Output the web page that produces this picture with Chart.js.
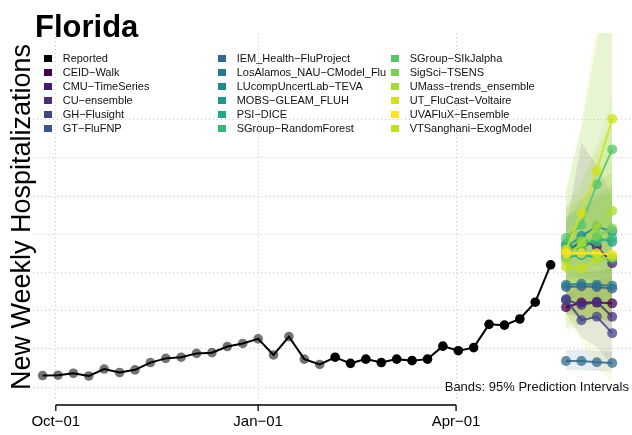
<!DOCTYPE html>
<html>
<head>
<meta charset="utf-8">
<script src="https://cdn.jsdelivr.net/npm/chart.js@4.4.0/dist/chart.umd.min.js"></script>
<style>
  html, body { margin: 0; padding: 0; background: #fff; }
  #wrap { position: relative; width: 632px; height: 435px; overflow: hidden; font-family: "Liberation Sans", Arial, sans-serif; }
  #chart { position: absolute; left: 0; top: 0; }
  #title { position: absolute; left: 35px; top: 11px; font-size: 31px; line-height: 31px; font-weight: bold; color: #000; }
  .item { position: absolute; font-size: 11px; line-height: 14px; color: #111; white-space: nowrap; }
  .key { position: absolute; width: 8px; height: 7px; }
  #note { position: absolute; right: 3px; top: 380px; font-size: 13px; line-height: 13px; color: #111; }
</style>
</head>
<body>
<div id="wrap">
  <canvas id="chart" width="632" height="435"></canvas>
  <div id="title">Florida</div>
  <div id="legend"></div>
  <div id="note">Bands: 95% Prediction Intervals</div>
</div>
<script>
// x axis ticks
const tickDates = ['2021-10-01', '2022-01-01', '2022-04-01'];
const tickLabels = ['Oct−01', 'Jan−01', 'Apr−01'];
// horizontal grid lines (no labels on the y axis)
const gridValues = [0, 100, 200, 300, 400, 500, 600, 700];

// reported weekly hospitalizations
const reportedDates = [
  '2021-09-25', '2021-10-02', '2021-10-09', '2021-10-16', '2021-10-23', '2021-10-30',
  '2021-11-06', '2021-11-13', '2021-11-20', '2021-11-27', '2021-12-04', '2021-12-11',
  '2021-12-18', '2021-12-25', '2022-01-01', '2022-01-08', '2022-01-15', '2022-01-22',
  '2022-01-29', '2022-02-05', '2022-02-12', '2022-02-19', '2022-02-26', '2022-03-05',
  '2022-03-12', '2022-03-19', '2022-03-26', '2022-04-02', '2022-04-09', '2022-04-16',
  '2022-04-23', '2022-04-30', '2022-05-07', '2022-05-14'
];
const reportedValues = [30, 31, 36, 29, 47, 38, 45, 64, 75, 78, 88, 90, 106, 114, 126, 84, 132, 73,
  59, 78, 62, 73, 64, 73, 69, 73, 107, 95, 103, 164, 162, 178, 222, 320];
const greyCount = 19; // first points drawn in grey

// forecasts
const forecastDates = ['2022-05-21', '2022-05-28', '2022-06-04', '2022-06-11'];
const modelNames = [
  'CEID−Walk', 'CMU−TimeSeries', 'CU−ensemble', 'GH−Flusight', 'GT−FluFNP',
  'IEM_Health−FluProject', 'LosAlamos_NAU−CModel_Flu', 'LUcompUncertLab−TEVA',
  'MOBS−GLEAM_FLUH', 'PSI−DICE', 'SGroup−RandomForest', 'SGroup−SIkJalpha',
  'SigSci−TSENS', 'UMass−trends_ensemble', 'UT_FluCast−Voltaire', 'UVAFluX−Ensemble',
  'VTSanghani−ExogModel'
];
const modelColors = [
  '#440154', '#481A6C', '#472F7D', '#414487', '#39568C', '#31688E', '#2A788E', '#23888E',
  '#1F988B', '#22A884', '#35B779', '#54C568', '#7AD151', '#A5DB36', '#D2E21B', '#FDE725',
  '#C2DF23'
];
const forecastMedian = [
  [209, 221, 221, 219], [350, 383, 368, 324], [228, 215, 223, 184], [230, 175, 184, 141],
  [262, 264, 262, 258], [68, 68, 65, 63], [268, 270, 268, 265], [365, 395, 420, 407],
  [375, 360, 390, 380], [340, 345, 340, 335], [372, 385, 380, 390], [390, 424, 531, 622],
  [355, 370, 395, 415], [330, 380, 420, 461], [359, 455, 566, 702], [350, 350, 350, 347],
  [314, 310, 335, 340]
];
const forecastLower = [
  [190, 185, 180, 170], [290, 290, 270, 230], [200, 185, 175, 150], [195, 130, 105, 55],
  [235, 230, 220, 210], [44, 44, 42, 40], [245, 240, 235, 225], [300, 310, 320, 290],
  [300, 280, 290, 270], [200, 190, 180, 170], [220, 215, 210, 200], [280, 290, 320, 340],
  [150, 160, 175, 190], [160, 170, 180, 190], [180, 120, 50, 10], [210, 195, 180, 170],
  [190, 180, 175, 170]
];
const forecastUpper = [
  [240, 265, 280, 290], [420, 639, 580, 500], [265, 260, 280, 245], [265, 225, 250, 220],
  [290, 300, 305, 310], [97, 97, 95, 92], [295, 300, 305, 310], [440, 490, 540, 560],
  [445, 460, 500, 520], [470, 490, 510, 530], [450, 470, 490, 510], [510, 680, 900, 1150],
  [470, 540, 620, 700], [430, 530, 640, 760], [524, 690, 955, 1300], [470, 500, 530, 560],
  [420, 440, 480, 520]
];

const DAY = 86400000;
const origin = Date.UTC(2021, 9, 1);
function dayOf(s) {
  const p = s.split('-').map(Number);
  return (Date.UTC(p[0], p[1] - 1, p[2]) - origin) / DAY;
}
function rgba(hex, a) {
  const n = parseInt(hex.slice(1), 16);
  return `rgba(${n >> 16}, ${(n >> 8) & 255}, ${n & 255}, ${a})`;
}
const font = '"Liberation Sans", Arial, sans-serif';
const tickDays = tickDates.map(dayOf);
const fDays = forecastDates.map(dayOf);
const toPoints = vals => vals.map((v, i) => ({ x: fDays[i], y: v }));

const datasets = [];
modelNames.forEach((name, i) => {
  // later models are painted on top of earlier ones
  const bandOrder = 3 + (modelNames.length - i) * 0.01;
  const lowerIdx = datasets.length;
  datasets.push({
    data: toPoints(forecastLower[i]), borderWidth: 0, pointRadius: 0, fill: false, order: bandOrder
  });
  datasets.push({
    data: toPoints(forecastUpper[i]), borderWidth: 0, pointRadius: 0,
    fill: lowerIdx, backgroundColor: rgba(modelColors[i], 0.12), order: bandOrder
  });
});
modelNames.forEach((name, i) => {
  datasets.push({
    label: name,
    data: toPoints(forecastMedian[i]),
    borderColor: rgba(modelColors[i], 0.85),
    borderWidth: 2,
    pointRadius: 5,
    pointBorderWidth: 0,
    pointBackgroundColor: rgba(modelColors[i], 0.75),
    fill: false,
    order: 1 + (modelNames.length - i) * 0.01
  });
});
const reportedPoints = reportedValues.map((v, i) => ({ x: dayOf(reportedDates[i]), y: v }));
datasets.push({
  data: reportedPoints.slice(0, greyCount),
  showLine: false,
  pointRadius: 4.8,
  pointBorderWidth: 0,
  pointBackgroundColor: 'rgba(0, 0, 0, 0.55)',
  order: 0.5
});
datasets.push({
  label: 'Reported',
  data: reportedPoints,
  borderColor: '#000',
  borderWidth: 2,
  pointRadius: reportedPoints.map((p, i) => i < greyCount ? 0 : 4.8),
  pointBorderWidth: 0,
  pointBackgroundColor: '#000',
  fill: false,
  order: 0
});

// R style axis line that only spans the tick range
const axisLine = {
  id: 'axisLine',
  afterDraw(chart) {
    const ctx = chart.ctx;
    const y0 = chart.chartArea.bottom + 4;
    const px = tickDays.map(d => chart.scales.x.getPixelForValue(d));
    ctx.save();
    ctx.strokeStyle = '#000';
    ctx.lineWidth = 1.3;
    ctx.beginPath();
    ctx.moveTo(px[0], y0);
    ctx.lineTo(px[px.length - 1], y0);
    px.forEach(p => { ctx.moveTo(p, y0); ctx.lineTo(p, y0 + 6); });
    ctx.stroke();
    ctx.restore();
  }
};

new Chart(document.getElementById('chart').getContext('2d'), {
  type: 'line',
  data: { datasets },
  options: {
    responsive: false,
    animation: false,
    devicePixelRatio: 1,
    layout: { autoPadding: false, padding: { top: 33, left: 0, right: 0, bottom: 0 } },
    elements: { line: { tension: 0 } },
    scales: {
      x: {
        type: 'linear',
        min: -10.37,
        max: 262,
        afterBuildTicks: s => { s.ticks = tickDays.map(v => ({ value: v })); },
        afterFit: s => { s.height = 34; },
        ticks: {
          callback: (v, i) => tickLabels[i],
          color: '#000',
          padding: 12,
          maxRotation: 0,
          font: { family: font, size: 15 }
        },
        grid: { color: '#c8c8c8', drawTicks: false },
        border: { display: false, dash: [1, 3] }
      },
      y: {
        min: -36.6,
        max: 926.7,
        afterBuildTicks: s => { s.ticks = gridValues.map(v => ({ value: v })); },
        afterFit: s => { s.width = 33; },
        ticks: { display: false },
        grid: { color: '#c8c8c8', drawTicks: false },
        border: { display: false, dash: [1, 3] },
        title: {
          display: true,
          text: 'New Weekly Hospitalizations',
          color: '#000',
          padding: { top: 6, bottom: 0 },
          font: { family: font, size: 27, lineHeight: 1.2 }
        }
      }
    },
    plugins: {
      legend: { display: false },
      tooltip: { enabled: false }
    }
  },
  plugins: [axisLine]
});

// legend: three columns of six rows
const legendNames = ['Reported'].concat(modelNames);
const legendColors = ['#000'].concat(modelColors);
const keyX = [44, 218, 391];
const legend = document.getElementById('legend');
legendNames.forEach((name, i) => {
  const col = Math.floor(i / 6), row = i % 6;
  const top = 51 + row * 14;
  const key = document.createElement('div');
  key.className = 'key';
  key.style.left = keyX[col] + 'px';
  key.style.top = (top + 4) + 'px';
  key.style.background = legendColors[i];
  legend.appendChild(key);
  const txt = document.createElement('div');
  txt.className = 'item';
  txt.style.left = (keyX[col] + 18.7) + 'px';
  txt.style.top = top + 'px';
  txt.textContent = name;
  legend.appendChild(txt);
});
</script>
</body>
</html>
